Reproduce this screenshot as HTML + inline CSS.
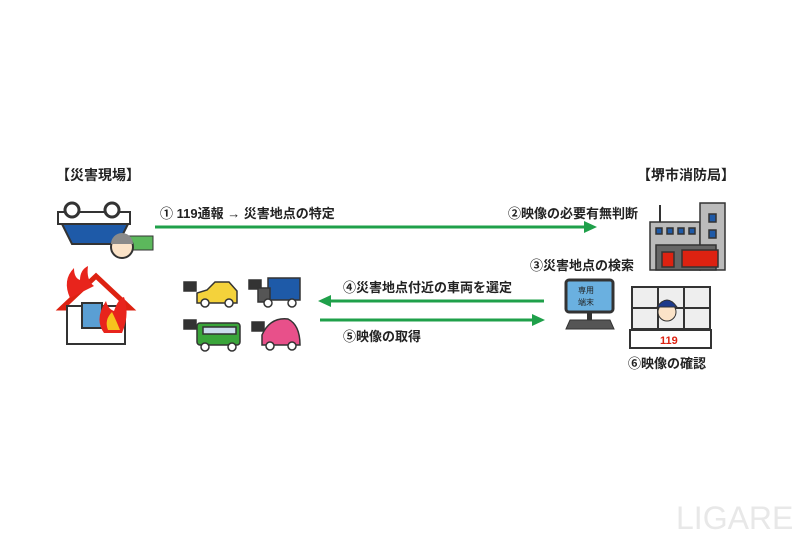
<!DOCTYPE html>
<html><head><meta charset="utf-8"><style>
html,body{margin:0;padding:0;background:#fff}
svg{display:block}
text{font-family:"Liberation Sans","Noto Sans CJK JP",sans-serif;font-weight:bold;fill:#222}
</style></head><body>
<svg width="800" height="533" viewBox="0 0 800 533" xmlns="http://www.w3.org/2000/svg">
<text x="56" y="180" font-size="14">【災害現場】</text>
<text x="637" y="180" font-size="14">【堺市消防局】</text>

<line x1="155" y1="227" x2="586" y2="227" stroke="#1fa04a" stroke-width="3"/>
<polygon points="584,221 597,227 584,233" fill="#1fa04a"/>
<text x="160" y="218" font-size="13">① 119通報 → 災害地点の特定</text>
<text x="508" y="218" font-size="13">②映像の必要有無判断</text>

<line x1="330" y1="301" x2="544" y2="301" stroke="#1fa04a" stroke-width="3"/>
<polygon points="331,295 318,301 331,307" fill="#1fa04a"/>
<text x="343" y="292" font-size="13">④災害地点付近の車両を選定</text>
<line x1="320" y1="320" x2="534" y2="320" stroke="#1fa04a" stroke-width="3"/>
<polygon points="532,314 545,320 532,326" fill="#1fa04a"/>
<text x="343" y="341" font-size="13">⑤映像の取得</text>
<text x="530" y="270" font-size="13">③災害地点の検索</text>
<text x="628" y="368" font-size="13">⑥映像の確認</text>

<rect x="58" y="212" width="72" height="12" fill="#fff" stroke="#333" stroke-width="2"/>
<polygon points="62,224 128,224 118,244 72,244" fill="#1e5aa8" stroke="#333" stroke-width="2"/>
<circle cx="72" cy="210" r="7" fill="#fff" stroke="#333" stroke-width="3"/>
<circle cx="112" cy="210" r="7" fill="#fff" stroke="#333" stroke-width="3"/>
<rect x="128" y="236" width="25" height="14" fill="#5cb85c" stroke="#333"/>
<circle cx="122" cy="247" r="11" fill="#fbe3c8" stroke="#333" stroke-width="2"/>
<path d="M111,244 a11,11 0 0 1 22,0" fill="#8a8a8a"/>

<polygon points="62,308 96,276 130,308" fill="none" stroke="#d21" stroke-width="5"/>
<rect x="67" y="306" width="58" height="38" fill="#fff" stroke="#333" stroke-width="2"/>
<rect x="82" y="303" width="20" height="25" fill="#5a9fd4" stroke="#333" stroke-width="2"/>
<path d="M70,298 q-8,-18 4,-30 q0,10 6,12 q0,-10 8,-14 q-2,14 6,20 z" fill="#e8241c"/>
<path d="M104,333 q-10,-14 2,-32 q2,8 8,10 q4,-12 10,-14 q6,18 -2,36 z" fill="#e8241c"/>
<path d="M108,330 q-4,-10 4,-18 q4,8 8,18 z" fill="#f7c21d"/>

<g stroke="#333" stroke-width="1.5">
<rect x="184" y="282" width="12" height="9" fill="#333"/>
<path d="M197,303 v-10 l10,-3 l8,-8 h14 l8,9 v12 z" fill="#f4d23b"/>
<circle cx="205" cy="303" r="4" fill="#fff"/><circle cx="229" cy="303" r="4" fill="#fff"/>
<rect x="249" y="280" width="12" height="9" fill="#333"/>
<rect x="268" y="278" width="32" height="22" fill="#1e5aa8"/>
<rect x="258" y="288" width="12" height="14" fill="#555"/>
<circle cx="268" cy="303" r="4" fill="#fff"/><circle cx="292" cy="303" r="4" fill="#fff"/>
<rect x="184" y="320" width="12" height="9" fill="#333"/>
<rect x="197" y="323" width="43" height="22" rx="3" fill="#3aa53a"/>
<rect x="203" y="327" width="33" height="7" fill="#cde"/>
<circle cx="205" cy="347" r="4" fill="#fff"/><circle cx="232" cy="347" r="4" fill="#fff"/>
<rect x="252" y="322" width="12" height="9" fill="#333"/>
<path d="M262,345 v-10 q8,-18 26,-16 q12,6 12,26 z" fill="#e8508a"/>
<circle cx="270" cy="346" r="4" fill="#fff"/><circle cx="292" cy="346" r="4" fill="#fff"/>
</g>

<g stroke="#333" stroke-width="1.5">
<rect x="650" y="222" width="50" height="48" fill="#bbb"/>
<rect x="700" y="203" width="25" height="67" fill="#bbb"/>
<rect x="656" y="228" width="6" height="6" fill="#1e5aa8"/><rect x="667" y="228" width="6" height="6" fill="#1e5aa8"/><rect x="678" y="228" width="6" height="6" fill="#1e5aa8"/><rect x="689" y="228" width="6" height="6" fill="#1e5aa8"/>
<rect x="709" y="214" width="7" height="8" fill="#1e5aa8"/><rect x="709" y="230" width="7" height="8" fill="#1e5aa8"/>
<rect x="656" y="245" width="60" height="25" fill="#666"/>
<rect x="662" y="252" width="12" height="15" fill="#d21"/>
<rect x="682" y="250" width="36" height="17" fill="#d21"/>
</g>
<line x1="660" y1="205" x2="660" y2="222" stroke="#333" stroke-width="2"/>

<rect x="566" y="280" width="47" height="32" rx="3" fill="#6ab0e0" stroke="#333" stroke-width="3"/>
<text x="578" y="293" font-size="8" style="font-weight:normal">専用</text>
<text x="578" y="305" font-size="8" style="font-weight:normal">端末</text>
<rect x="587" y="312" width="5" height="8" fill="#333"/>
<polygon points="566,329 570,320 610,320 614,329" fill="#555" stroke="#333"/>

<rect x="632" y="287" width="78" height="42" fill="#eee" stroke="#333" stroke-width="2"/>
<line x1="658" y1="287" x2="658" y2="329" stroke="#333" stroke-width="2"/>
<line x1="684" y1="287" x2="684" y2="329" stroke="#333" stroke-width="2"/>
<line x1="632" y1="308" x2="710" y2="308" stroke="#333" stroke-width="2"/>
<circle cx="667" cy="312" r="9" fill="#fbe3c8" stroke="#333"/>
<path d="M657,307 q10,-14 20,0 z" fill="#1e3a8a" stroke="#333"/>
<rect x="630" y="330" width="81" height="18" fill="#fff" stroke="#333" stroke-width="2"/>
<text x="660" y="344" font-size="11" style="fill:#d21">119</text>

<text x="676" y="529" font-size="32" style="font-weight:normal;fill:#e8e8e8">LIGARE</text>
</svg>
</body></html>
